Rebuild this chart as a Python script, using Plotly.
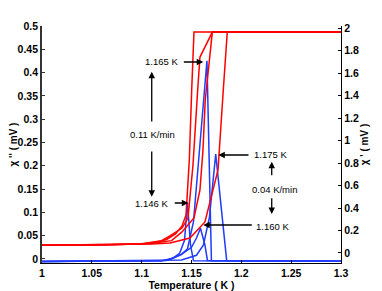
import plotly.graph_objects as go

# ---- data: chi' (red, right axis, mV) ----
r1_T = [1.000, 1.060, 1.100, 1.115, 1.125, 1.134, 1.1405, 1.1445, 1.1478, 1.1502, 1.1525, 1.300]
r1_V = [0.068, 0.072, 0.080, 0.095, 0.120, 0.169, 0.240, 0.338, 0.827, 1.449, 1.964, 1.964]

r2_T = [1.000, 1.060, 1.100, 1.120, 1.1284, 1.1405, 1.1465, 1.1515, 1.1562, 1.1585, 1.1709, 1.300]
r2_V = [0.068, 0.072, 0.082, 0.110, 0.151, 0.222, 0.311, 0.782, 1.449, 1.742, 1.964, 1.964]

r3_T = [1.000, 1.060, 1.110, 1.130, 1.1405, 1.1525, 1.1585, 1.1615, 1.1638, 1.1709, 1.300]
r3_V = [0.068, 0.072, 0.085, 0.110, 0.187, 0.311, 0.560, 0.916, 1.360, 1.964, 1.964]

r4_T = [1.000, 1.060, 1.110, 1.1284, 1.1485, 1.1635, 1.1766, 1.1819, 1.1859, 1.300]
r4_V = [0.068, 0.072, 0.080, 0.089, 0.133, 0.276, 0.738, 1.449, 1.964, 1.964]

# ---- data: chi'' (blue, left axis, mV) ----
b1_T = [1.000, 1.100, 1.120, 1.130, 1.138, 1.143, 1.146, 1.149, 1.152, 1.300]
b1_V = [-0.0055, -0.005, -0.004, 0.000, 0.012, 0.040, 0.121, 0.030, -0.004, -0.005]

b2_T = [1.000, 1.120, 1.132, 1.140, 1.146, 1.152, 1.1655, 1.170, 1.300]
b2_V = [-0.0055, -0.004, 0.002, 0.010, 0.022, 0.080, 0.4255, -0.004, -0.005]

b3_T = [1.000, 1.125, 1.140, 1.150, 1.155, 1.159, 1.1635, 1.166, 1.300]
b3_V = [-0.0055, -0.003, 0.010, 0.025, 0.045, 0.066, 0.030, -0.003, -0.005]

b4_T = [1.000, 1.140, 1.155, 1.162, 1.168, 1.1743, 1.1853, 1.300]
b4_V = [-0.0055, -0.002, 0.008, 0.030, 0.090, 0.225, -0.003, -0.005]

x_ticks = [1.0, 1.05, 1.1, 1.15, 1.2, 1.25, 1.3]
x_ticklabels = ["1", "1.05", "1.1", "1.15", "1.2", "1.25", "1.3"]
yl_ticks = [0, 0.05, 0.1, 0.15, 0.2, 0.25, 0.3, 0.35, 0.4, 0.45, 0.5]
yl_ticklabels = ["0", "0.05", "0.1", "0.15", "0.2", "0.25", "0.3", "0.35", "0.4", "0.45", "0.5"]
yr_ticks = [0, 0.2, 0.4, 0.6, 0.8, 1.0, 1.2, 1.4, 1.6, 1.8, 2.0]
yr_ticklabels = ["0", "0.2", "0.4", "0.6", "0.8", "1", "1.2", "1.4", "1.6", "1.8", "2"]

BLUE = "#1f3cff"
RED = "#ff0000"
FONT = "Liberation Sans, Arial, sans-serif"

fig = go.Figure()
for T, V in [(b1_T, b1_V), (b2_T, b2_V), (b3_T, b3_V), (b4_T, b4_V)]:
    fig.add_trace(go.Scatter(x=T, y=V, mode="lines", line=dict(color=BLUE, width=1.5),
                             yaxis="y", showlegend=False, hoverinfo="skip"))
for T, V in [(r1_T, r1_V), (r2_T, r2_V), (r3_T, r3_V), (r4_T, r4_V)]:
    fig.add_trace(go.Scatter(x=T, y=V, mode="lines", line=dict(color=RED, width=1.5),
                             yaxis="y2", showlegend=False, hoverinfo="skip"))

tickfont = dict(family=FONT, size=10.5, color="black", weight="bold")

# page body has an 8px margin, so the figure is drawn 8px in from the top-left
fig.update_layout(
    width=374, height=283,
    margin=dict(l=34, r=41, t=18, b=28, pad=0, autoexpand=False),
    paper_bgcolor="white", plot_bgcolor="white",
    xaxis=dict(range=[1.0, 1.3], tickvals=x_ticks, ticktext=x_ticklabels,
               ticks="inside", ticklen=3, tickcolor="black", showline=True,
               linecolor="black", linewidth=1.2, showgrid=False, zeroline=False,
               tickfont=tickfont, automargin=False,
               title=dict(text="Temperature ( K )", standoff=0,
                          font=dict(family=FONT, size=10.5, color="black", weight="bold"))),
    yaxis=dict(range=[-0.0086, 0.5], tickvals=yl_ticks, ticktext=yl_ticklabels,
               ticks="inside", ticklen=3, tickcolor="#333", showline=True,
               linecolor="#333", linewidth=1.8, showgrid=False, zeroline=False,
               tickfont=tickfont, automargin=False,
               title=dict(text="χ '' ( mV )", standoff=0,
                          font=dict(family=FONT, size=10, color="black", weight="bold"))),
    yaxis2=dict(range=[-0.089, 2.018], tickvals=yr_ticks, ticktext=yr_ticklabels,
                overlaying="y", side="right", anchor="x",
                ticks="inside", ticklen=3, tickcolor="black", showline=True,
                linecolor="black", linewidth=1.2, showgrid=False, zeroline=False,
                tickfont=tickfont, automargin=False,
                title=dict(text="χ ' ( mV )", standoff=0,
                           font=dict(family=FONT, size=10, color="black", weight="bold"))),
)

afont = dict(family=FONT, size=9.5, color="black")

texts = [
    ("1.165 K", 1.1194, 0.4234),
    ("0.11 K/min", 1.1109, 0.2661),
    ("1.146 K", 1.1101, 0.1195),
    ("1.175 K", 1.2291, 0.2232),
    ("0.04 K/min", 1.2332, 0.1496),
    ("1.160 K", 1.2311, 0.0708),
]
for t, x, y in texts:
    fig.add_annotation(x=x, y=y, xref="x", yref="y", text=t, showarrow=False, font=afont)

arrows = [
    # (head_x, head_y, tail_x, tail_y)
    (1.1618, 0.4227, 1.1408, 0.4227),
    (1.1101, 0.4019, 1.1101, 0.2918),
    (1.1101, 0.1337, 1.1101, 0.2339),
    (1.1468, 0.1202, 1.1317, 0.1202),
    (1.1769, 0.2232, 1.2087, 0.2232),
    (1.2305, 0.2088, 1.2305, 0.1766),
    (1.2305, 0.0966, 1.2305, 0.1337),
    (1.1618, 0.0730, 1.2120, 0.0730),
]
for hx, hy, tx, ty in arrows:
    fig.add_annotation(x=hx, y=hy, xref="x", yref="y", ax=tx, ay=ty, axref="x", ayref="y",
                       text="", showarrow=True, arrowhead=2, arrowsize=1, arrowwidth=1.3,
                       arrowcolor="black")

fig.write_html("out.html")
